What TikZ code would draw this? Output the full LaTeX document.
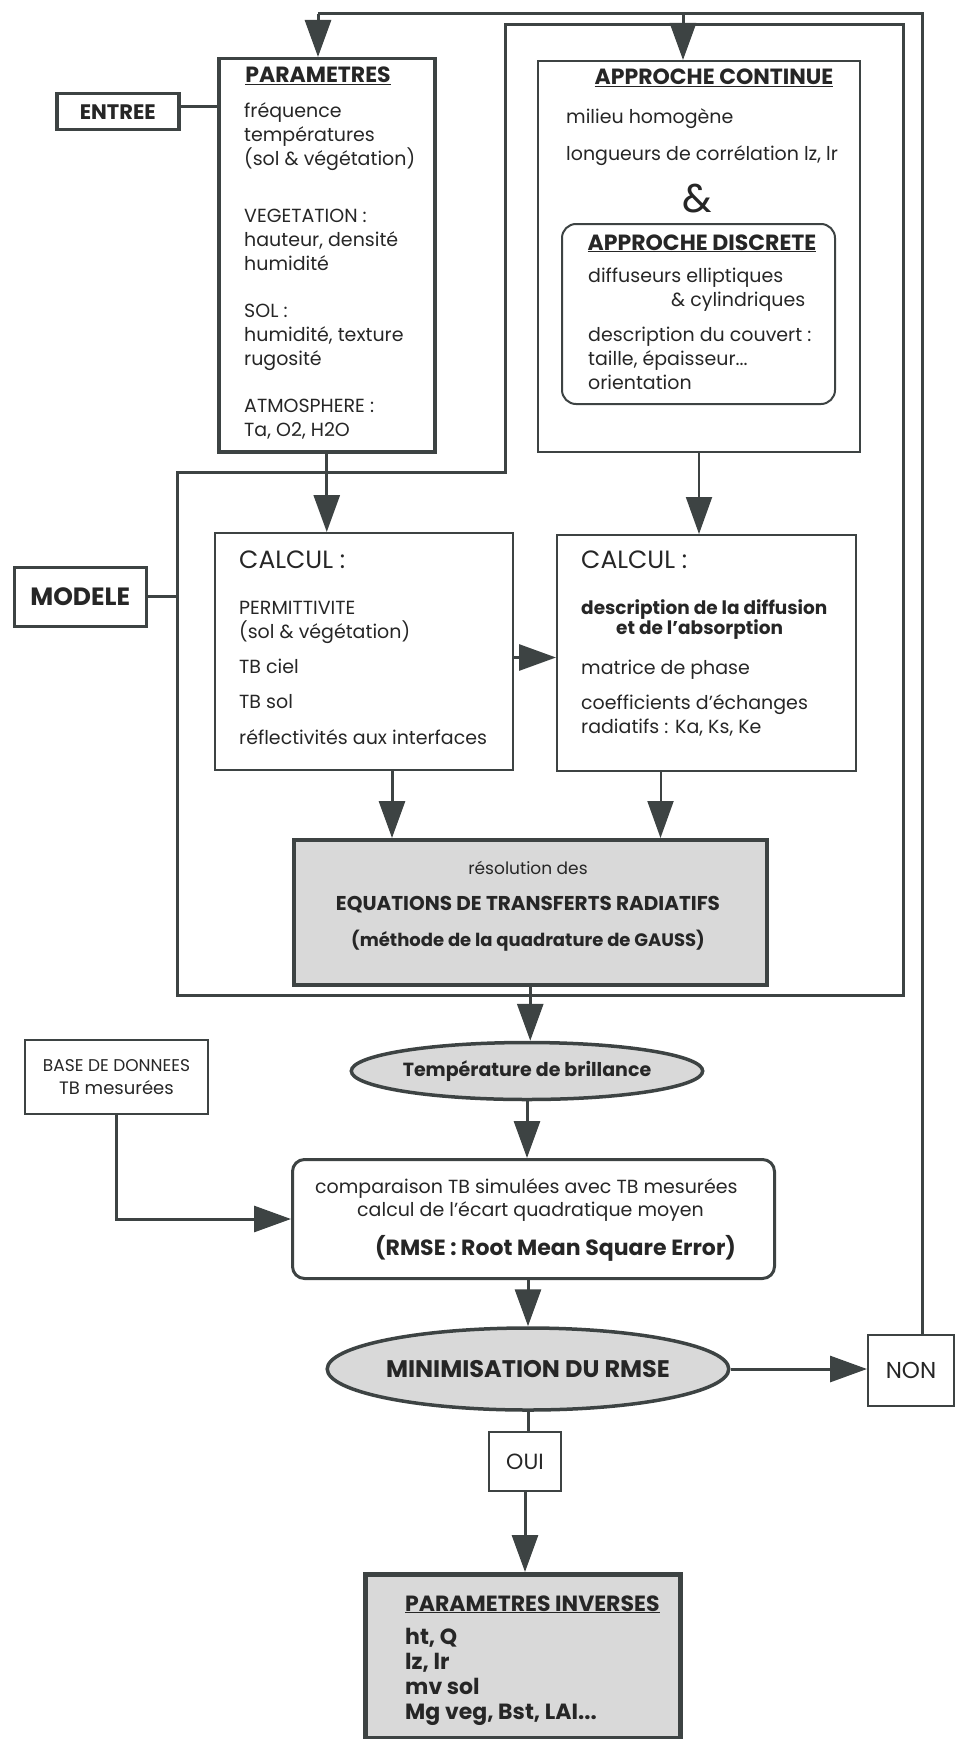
\documentclass[tikz,border=0pt]{standalone}
\usepackage{fontspec}
\setmainfont{Poppins}
\usetikzlibrary{positioning, arrows.meta, shapes.geometric}

\definecolor{ink}{HTML}{3D4343}
\definecolor{shade}{HTML}{D9D9D9}

\begin{document}
\begin{tikzpicture}[x=1pt, y=-1pt, text=black!85,
    box/.style={rectangle, draw=ink, line width=2pt, anchor=north west, inner sep=0pt},
    heavy/.style={line width=3.5pt},
    shaded/.style={fill=shade},
    oval/.style={ellipse, draw=ink, line width=3.5pt, fill=shade, inner sep=0pt},
    txt/.style={anchor=base west, align=left, inner sep=0pt, font=\fontsize{19}{24}\selectfont},
    ttl/.style={anchor=base, inner sep=0pt, font=\bfseries\fontsize{22}{24}\selectfont},
    wire/.style={draw=ink, line width=3pt},
    arr/.style={wire, -{Triangle[length=37pt, width=26pt]}},
  ]
  \useasboundingbox (0,0) rectangle (954,1739);

  % Entree
  \node[box, heavy, minimum width=122pt, minimum height=36pt, font=\bfseries\fontsize{21}{22}\selectfont] (entree) at (55,92) {ENTREE};
  \node[box, heavy, minimum width=216pt, minimum height=393pt] (param) at (217,57) {};
  \node[ttl] (param_t) at (318,83) {\underline{PARAMETRES}};
  \node[txt] (param_l) at (244,436) {fréquence\\températures\\(sol \& végétation)\\[33pt]VEGETATION :\\hauteur, densité\\humidité\\[23pt]SOL :\\humidité, texture\\rugosité\\[23pt]ATMOSPHERE :\\Ta, O2, H2O};

  % Approches
  \node[box, minimum width=322pt, minimum height=391pt] (cont) at (537,60) {};
  \node[ttl] (cont_t) at (714,85) {\underline{APPROCHE CONTINUE}};
  \node[txt] (cont_l) at (566,161) {milieu homogène\\[13pt]longueurs de corrélation lz, lr};
  \node[anchor=base, inner sep=0pt, font=\fontsize{40}{40}\selectfont] (et) at (697,212) {\&};
  \node[box, rounded corners=14pt, minimum width=273pt, minimum height=180pt] (disc) at (561,223) {};
  \node[ttl] (disc_t) at (702,250) {\underline{APPROCHE DISCRETE}};
  \node[txt] (disc_l) at (588,389) {diffuseurs elliptiques\\\hspace*{83pt}\& cylindriques\\[11pt]description du couvert :\\taille, épaisseur...\\orientation};

  % Cadre modele
  \coordinate (fr_a) at (505,25);
  \coordinate (fr_b) at (903,25);
  \coordinate (fr_c) at (903,995);
  \coordinate (fr_d) at (177,995);
  \coordinate (fr_e) at (177,472);
  \coordinate (fr_f) at (505,472);
  \draw[wire] (fr_a) -- (fr_b) -- (fr_c) -- (fr_d) -- (fr_e) -- (fr_f) -- cycle;
  \node[box, line width=2.5pt, minimum width=132pt, minimum height=59pt, font=\bfseries\fontsize{25}{26}\selectfont] (modele) at (13,566) {MODELE};

  % Calcul
  \node[box, minimum width=298pt, minimum height=237pt] (calcL) at (214,532) {};
  \node[txt, font=\fontsize{25}{26}\selectfont] (calcL_t) at (239,568) {CALCUL :};
  \node[txt] (calcL_l) at (239,744) {PERMITTIVITE\\(sol \& végétation)\\[11pt]TB ciel\\[11pt]TB sol\\[12pt]réflectivités aux interfaces};
  \node[box, minimum width=299pt, minimum height=236pt] (calcR) at (556,534) {};
  \node[txt, font=\fontsize{25}{26}\selectfont] (calcR_t) at (581,568) {CALCUL :};
  \node[txt, font=\bfseries\fontsize{18.5}{20}\selectfont] (calcR_b) at (581,634) {description de la diffusion\\\hspace*{35pt}et de l'absorption};
  \node[txt] (calcR_l) at (581,733) {matrice de phase\\[11pt]coefficients d'échanges\\radiatifs : Ka, Ks, Ke};

  % Resolution
  \node[box, heavy, shaded, minimum width=473pt, minimum height=145pt] (res) at (292,838) {};
  \node[anchor=base, align=center, inner sep=0pt, font=\fontsize{17}{36}\selectfont] (res_l) at (528,946) {résolution des\\{\bfseries\fontsize{20}{36}\selectfont EQUATIONS DE TRANSFERTS RADIATIFS}\\{\bfseries\fontsize{18}{36}\selectfont (méthode de la quadrature de GAUSS)}};

  % Comparaison
  \node[oval, minimum width=333pt, minimum height=57pt, font=\bfseries\fontsize{19}{20}\selectfont] (temp) at (527,1071) {Température de brillance};
  \node[box, minimum width=183pt, minimum height=74pt, align=center, font=\fontsize{17}{23}\selectfont] (base) at (24,1039) {BASE DE DONNEES\\{\fontsize{18}{23}\selectfont TB mesurées}};
  \node[box, line width=3pt, rounded corners=12pt, minimum width=482pt, minimum height=119pt] (comp) at (291,1158) {};
  \node[txt, font=\fontsize{19}{23}\selectfont] (comp_l) at (315,1255) {comparaison TB simulées avec TB mesurées\\\hspace*{42pt}calcul de l'écart quadratique moyen\\[12pt]\hspace*{60pt}{\bfseries\fontsize{22}{23}\selectfont (RMSE : Root Mean Square Error)}};

  % Minimisation
  \node[oval, minimum width=347pt, minimum height=82pt, font=\bfseries\fontsize{24}{26}\selectfont] (mini) at (528,1369) {MINIMISATION DU RMSE};
  \node[box, minimum width=86pt, minimum height=71pt, font=\fontsize{23}{24}\selectfont] (non) at (867,1334) {NON};
  \node[box, minimum width=72pt, minimum height=59pt, font=\fontsize{22}{24}\selectfont] (oui) at (488,1431) {OUI};
  \node[box, line width=5pt, shaded, minimum width=315pt, minimum height=164pt] (inv) at (363,1572) {};
  \node[txt, font=\bfseries\fontsize{22}{25}\selectfont] (inv_l) at (405,1719) {\underline{PARAMETRES INVERSES}\\[8pt]ht, Q\\lz, lr\\mv sol\\Mg veg, Bst, LAI...};

  % Boucle de retour
  \coordinate (fb) at (922,14);
  \coordinate (fb_p) at (318,14);
  \coordinate (fb_a) at (683,14);
  \draw[wire] (non.north -| fb) -- (fb) -- (fb_p);
  \draw[arr] (fb_p) -- (fb_p |- param.north);
  \draw[arr] (fb_a) -- (fb_a |- cont.north);

  % Edges entree / modele
  \draw[wire] ([yshift=5pt]entree.east) -- ([yshift=5pt]entree.east -| param.west);
  \draw[wire] (modele.east) -- (modele.east -| fr_d);
  \draw[arr] (param.south) -- (param.south |- calcL.north);
  \draw[arr, line width=2pt] (cont.south) -- (cont.south |- calcR.north);
  \draw[arr] ([yshift=-6pt]calcL.east) -- ([yshift=-6pt]calcL.east -| calcR.west);
  \draw[arr] ([xshift=28pt]calcL.south) -- ([xshift=28pt]calcL.south |- res.north);
  \draw[arr, line width=2pt] ([xshift=-46pt]calcR.south) -- ([xshift=-46pt]calcR.south |- res.north);

  % Edges sortie
  \draw[arr] (res.south) -- (res.south |- temp.north);
  \draw[arr] (temp.south) -- (temp.south |- comp.north);
  \draw[arr] (base.south) |- (comp.west);
  \draw[arr] (mini.north |- comp.south) -- (mini.north);
  \draw[arr] (mini.east) -- (mini.east -| non.west);
  \draw[wire] (mini.south) -- (mini.south |- oui.north);
  \draw[arr] (oui.south) -- (oui.south |- inv.north);
\end{tikzpicture}
\end{document}
